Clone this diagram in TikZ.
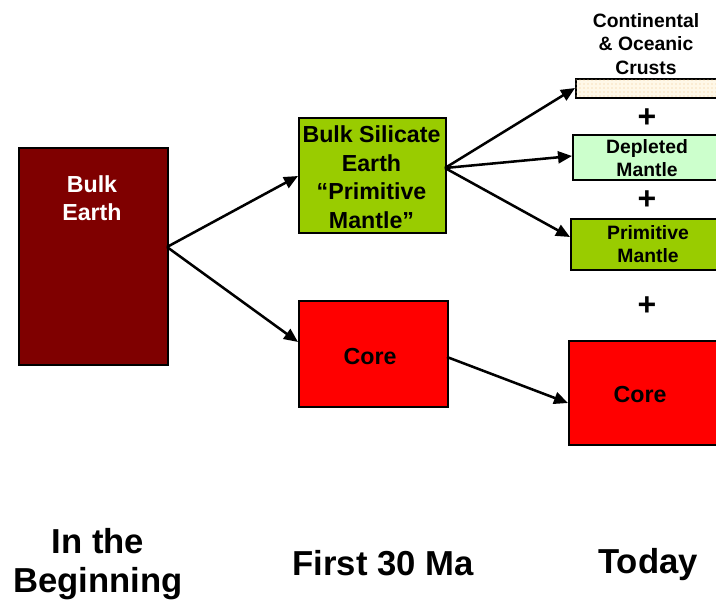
\documentclass[tikz,border=0pt]{standalone}
\usepackage{fontspec}
\setmainfont{Liberation Sans}
\usetikzlibrary{arrows.meta,patterns}
\definecolor{bulkred}{HTML}{7F0000}
\definecolor{bsegreen}{HTML}{99CC00}
\definecolor{depgreen}{HTML}{CCFFCC}
\definecolor{crustfill}{HTML}{FFF8E8}
\definecolor{crustdot}{HTML}{F0C890}
\definecolor{corered}{HTML}{FF0000}
\tikzset{
  box/.style={draw=black, line width=1.2pt, inner sep=0pt, anchor=north west},
  lbl/.style={font=\fontsize{17.4}{21.4}\selectfont\bfseries, align=center},
  slbl/.style={font=\fontsize{14.5}{17.5}\selectfont\bfseries, align=center},
  big/.style={font=\fontsize{26}{29.5}\selectfont\bfseries, align=center},
  plus/.style={font=\fontsize{24}{24}\selectfont\bfseries},
  arr/.style={line width=1.9pt, -{Triangle[length=10.5pt,width=9pt]}}
}
\begin{document}
\begin{tikzpicture}[x=0.75pt,y=-0.75pt]
\useasboundingbox (0,0) rectangle (716,600);
\clip (0,0) rectangle (716,600);
% boxes
\node[box, fill=bulkred, minimum width=149*0.75pt, minimum height=217*0.75pt] (be) at (18,147) {};
\node[lbl, text=white] (bet) at (92,198) {Bulk\\Earth};
\node[box, fill=bsegreen, minimum width=147*0.75pt, minimum height=115*0.75pt] (bse) at (298,117) {};
\node[lbl] (bset) at (371.5,177) {Bulk Silicate\\Earth\\“Primitive\\Mantle”};
\node[box, fill=corered, minimum width=149*0.75pt, minimum height=106*0.75pt] (core1) at (298,300) {};
\node[lbl] (core1t) at (370,357) {Core};
% today column
\node[box, fill=crustfill, minimum width=150*0.75pt, minimum height=19*0.75pt] (crust) at (575,78) {};
\fill[pattern=dots, pattern color=crustdot] (575.8,78.8) rectangle (722,96.2);
\node[slbl] (crustt) at (646,44) {Continental\\\& Oceanic\\Crusts};
\node[plus] (p1) at (647,118) {+};
\node[box, fill=depgreen, minimum width=150*0.75pt, minimum height=45*0.75pt] (dep) at (572,134) {};
\node[slbl] (dept) at (647,158) {Depleted\\Mantle};
\node[plus] (p2) at (647,200) {+};
\node[box, fill=bsegreen, minimum width=152*0.75pt, minimum height=51*0.75pt] (pm) at (570,218) {};
\node[slbl] (pmt) at (648,244) {Primitive\\Mantle};
\node[plus] (p3) at (647,306) {+};
\node[box, fill=corered, minimum width=154*0.75pt, minimum height=104*0.75pt] (core2) at (568,340) {};
\node[lbl] (core2t) at (640,395) {Core};
% arrows
\coordinate (bo) at (167,247);
\coordinate (so) at (445,168);
\coordinate (co) at (447,357);
\draw[arr] (bo) -- (298,176);
\draw[arr] (bo) -- (298,342);
\draw[arr] (so) -- (575,88);
\draw[arr] (so) -- (572,156);
\draw[arr] (so) -- (570,237);
\draw[arr] (co) -- (568,403);
% bottom labels
\node[big] (l1) at (98,564) {In the\\Beginning};
\node[big] (l2) at (383,563) {First 30 Ma};
\node[big] (l3) at (648,565) {Today};
\end{tikzpicture}
\end{document}
